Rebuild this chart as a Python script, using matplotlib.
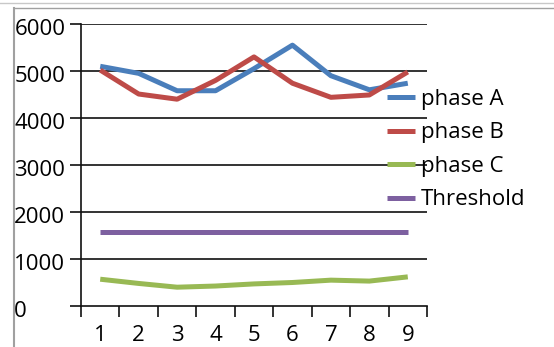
import matplotlib
matplotlib.use("Agg")
import matplotlib.pyplot as plt
import matplotlib.transforms as mtransforms
from matplotlib.lines import Line2D

plt.rcParams['font.family'] = ['Open Sans', 'DejaVu Sans']

categories = ['1', '2', '3', '4', '5', '6', '7', '8', '9']
phase_a = [5100, 4950, 4580, 4580, 5050, 5550, 4900, 4600, 4740]
phase_b = [5020, 4510, 4400, 4800, 5300, 4740, 4440, 4490, 4980]
phase_c = [570, 480, 400, 425, 470, 500, 550, 530, 620]
threshold = [1580] * 9
y_ticks = [0, 1000, 2000, 3000, 4000, 5000, 6000]
y_labels = ['0', '1000', '2000', '3000', '4000', '5000', '6000']

series = [
    ('phase A', phase_a, '#4a7ebb'),
    ('phase B', phase_b, '#be4b48'),
    ('phase C', phase_c, '#98b954'),
    ('Threshold', threshold, '#7d60a0'),
]

FS = 16
W, H = 554, 347
fig = plt.figure(figsize=(W / 100, H / 100), dpi=100)
ax = fig.add_axes([81 / W, 1 - 306 / H, (427 - 81) / W, (306 - 24) / H])

x = list(range(len(categories)))
for name, vals, col in series:
    ax.plot(x, vals, color=col, lw=3.6, label=name,
            solid_joinstyle='round', solid_capstyle='butt', zorder=3)

ax.set_xlim(-0.5, len(categories) - 0.5)
ax.set_ylim(0, 6000)

# horizontal gridlines
for v in y_ticks[1:]:
    ax.axhline(v, color='#111111', lw=1.2, zorder=1)

for s in ['top', 'right']:
    ax.spines[s].set_visible(False)
for s in ['left', 'bottom']:
    ax.spines[s].set_color('#111111')
    ax.spines[s].set_linewidth(1.2)

ax.set_yticks(y_ticks)
ax.set_yticklabels(y_labels)
ax.tick_params(axis='y', length=8, width=1.2, color='#111111', pad=40,
               labelsize=FS)
shift = mtransforms.ScaledTranslation(0, -3 / 100, fig.dpi_scale_trans)
for lab in ax.get_yticklabels():
    lab.set_horizontalalignment('left')
    lab.set_transform(lab.get_transform() + shift)

# boundary ticks on the category axis, labels at category centres
ax.set_xticks([i - 0.5 for i in range(len(categories) + 1)])
ax.set_xticklabels([])
ax.tick_params(axis='x', which='major', length=8, width=1.2,
               color='#111111', direction='out')
ax.set_xticks(x, minor=True)
ax.set_xticklabels(categories, minor=True)
ax.tick_params(axis='x', which='minor', length=0, pad=14, labelsize=FS)

handles = [Line2D([0], [0], color=c, lw=3.6, solid_capstyle='butt')
           for _, _, c in series]
fig.legend(handles, [s[0] for s in series], loc='upper left',
           bbox_to_anchor=(387 / W, 1 - 89 / H), frameon=False,
           fontsize=FS, handlelength=1.26, handletextpad=0.27,
           labelspacing=0.56, borderpad=0, borderaxespad=0)

# outer frame lines
fig.add_artist(Line2D([0, 1], [1 - 3 / H, 1 - 3 / H], color='#c8c8c8', lw=1))
fig.add_artist(Line2D([14 / W, 1], [1 - 8 / H, 1 - 8 / H], color='#a0a0a0', lw=1))
fig.add_artist(Line2D([14 / W, 14 / W], [0, 1 - 8 / H], color='#a0a0a0', lw=1.5))

fig.savefig('out.png', dpi=100)
